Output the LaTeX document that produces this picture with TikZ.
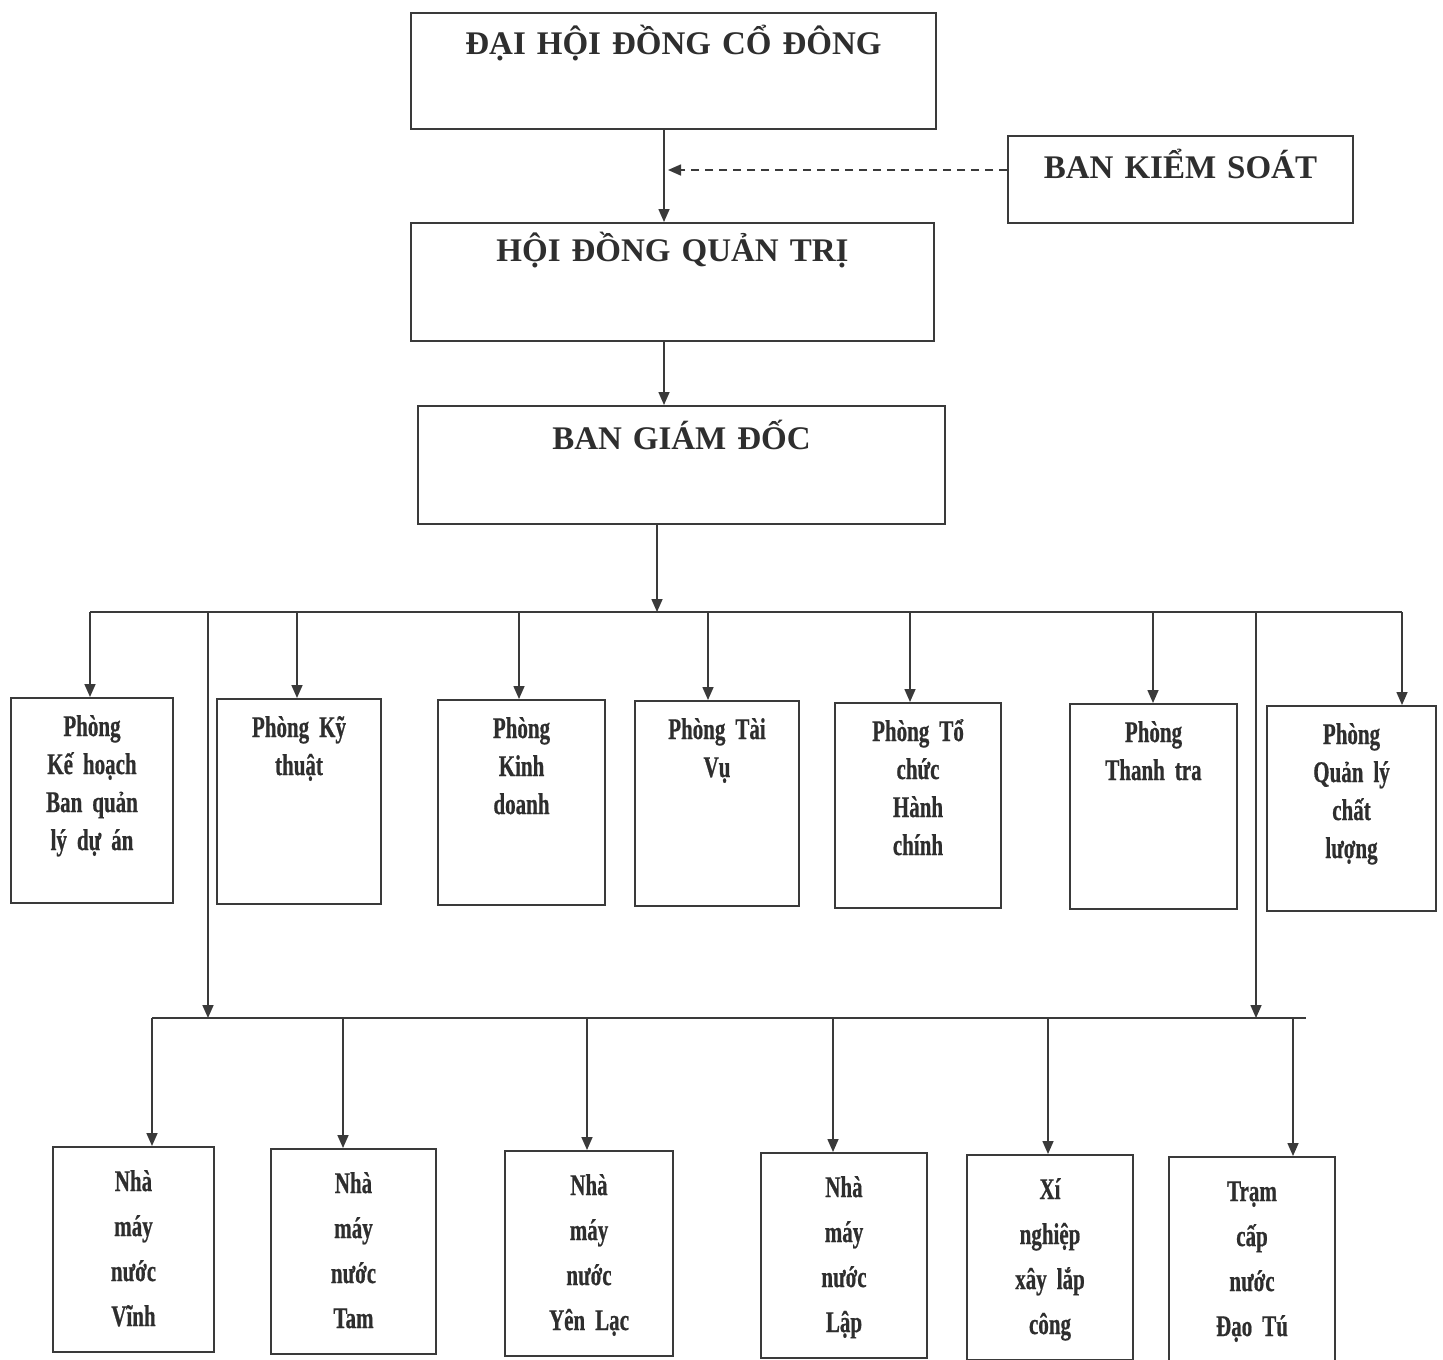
\documentclass[tikz,border=0pt]{standalone}
\usepackage{fontspec}
\setmainfont{Liberation Serif}
\newfontfamily\condfont{Liberation Serif}[FakeStretch=0.7, FakeBold=0.6, WordSpace=0.55]
\usetikzlibrary{arrows.meta,positioning}
\definecolor{linec}{HTML}{3A3A3A}
\definecolor{textc}{HTML}{2E2E2E}

\begin{document}
\begin{tikzpicture}[x=1pt, y=-1pt, >={Triangle[length=13pt,width=11pt]}]
\tikzstyle{head}=[draw=linec, line width=2pt, inner sep=0pt, anchor=north west, align=center, text=textc, font=\bfseries\fontsize{33}{40}\selectfont]
\tikzstyle{phong}=[draw=linec, line width=2pt, inner sep=0pt, anchor=north west, align=center, text=textc, font=\condfont\bfseries\fontsize{30}{38}\selectfont, text height=38pt, text depth=167pt]
\tikzstyle{donvi}=[draw=linec, line width=2pt, inner sep=0pt, anchor=north west, align=center, text=textc, font=\condfont\bfseries\fontsize{30}{45}\selectfont, text height=44pt, text depth=161pt]
\tikzstyle{link}=[draw=linec, line width=1.6pt]
\useasboundingbox[fill=white] (0,0) rectangle (1443,1360);

% cap tren
\node[head, text width=525pt, text height=41pt, text depth=75pt] (dh) at (410,12) {ĐẠI HỘI ĐỒNG CỔ ĐÔNG};
\node[head, text width=345pt, text height=42pt, text depth=45pt] (bks) at (1007,135) {BAN KIỂM SOÁT};
\node[head, text width=523pt, text height=38pt, text depth=80pt] (hdqt) at (410,222) {HỘI ĐỒNG QUẢN TRỊ};
\node[head, text width=527pt, text height=43pt, text depth=75pt] (bgd) at (417,405) {BAN GIÁM ĐỐC};

% cac phong
\node[phong, text width=162pt] (kh) at (10,697) {Phòng\\ Kế hoạch\\ Ban quản\\ lý dự án};
\node[phong, text width=164pt] (kt) at (216,698) {Phòng Kỹ\\ thuật};
\node[phong, text width=167pt] (kd) at (437,699) {Phòng\\ Kinh\\ doanh};
\node[phong, text width=164pt] (tv) at (634,700) {Phòng Tài\\ Vụ};
\node[phong, text width=166pt] (tc) at (834,702) {Phòng Tổ\\ chức\\ Hành\\ chính};
\node[phong, text width=167pt] (tt) at (1069,703) {Phòng\\ Thanh tra};
\node[phong, text width=169pt] (cl) at (1266,705) {Phòng\\ Quản lý\\ chất\\ lượng};

% cac don vi
\node[donvi, text width=161pt] (vi) at (52,1146) {Nhà\\ máy\\ nước\\ Vĩnh};
\node[donvi, text width=165pt] (ta) at (270,1148) {Nhà\\ máy\\ nước\\ Tam};
\node[donvi, text width=168pt] (yl) at (504,1150) {Nhà\\ máy\\ nước\\ Yên Lạc};
\node[donvi, text width=166pt] (la) at (760,1152) {Nhà\\ máy\\ nước\\ Lập};
\node[donvi, text width=166pt] (xn) at (966,1154) {Xí\\ nghiệp\\ xây lắp\\ công};
\node[donvi, text width=166pt] (tr) at (1168,1156) {Trạm\\ cấp\\ nước\\ Đạo Tú};

% truc doc
\coordinate (ax) at (664,0);
\coordinate (ks) at (668,170);
\draw[link, ->] (ax |- dh.south) -- (ax |- hdqt.north);
\draw[link, ->] (ax |- hdqt.south) -- (ax |- bgd.north);
\draw[link, ->, dash pattern=on 8pt off 6pt] (ks -| bks.west) -- (ks);

% thanh ngang
\coordinate (busL) at (90,612);
\coordinate (busR) at (1402,612);
\coordinate (bus2L) at (152,1018);
\coordinate (bus2R) at (1306,1018);
\coordinate (bg) at (657,612);
\draw[link, ->] (bg |- bgd.south) -- (bg);
\draw[link] (busL) -- (busR);
\draw[link] (bus2L) -- (bus2R);

\foreach \n/\x in {kh/90, kt/297, kd/519, tv/708, tc/910, tt/1153, cl/1402} {
  \coordinate (d\n) at (\x,612);
  \draw[link, ->] (d\n) -- (d\n |- \n.north);
}
\foreach \x in {208, 1256} {
  \coordinate (u\x) at (\x,612);
  \draw[link, ->] (u\x) -- (u\x |- bus2L);
}
\foreach \n/\x in {vi/152, ta/343, yl/587, la/833, xn/1048, tr/1293} {
  \coordinate (e\n) at (\x,1018);
  \draw[link, ->] (e\n) -- (e\n |- \n.north);
}
\end{tikzpicture}
\end{document}
